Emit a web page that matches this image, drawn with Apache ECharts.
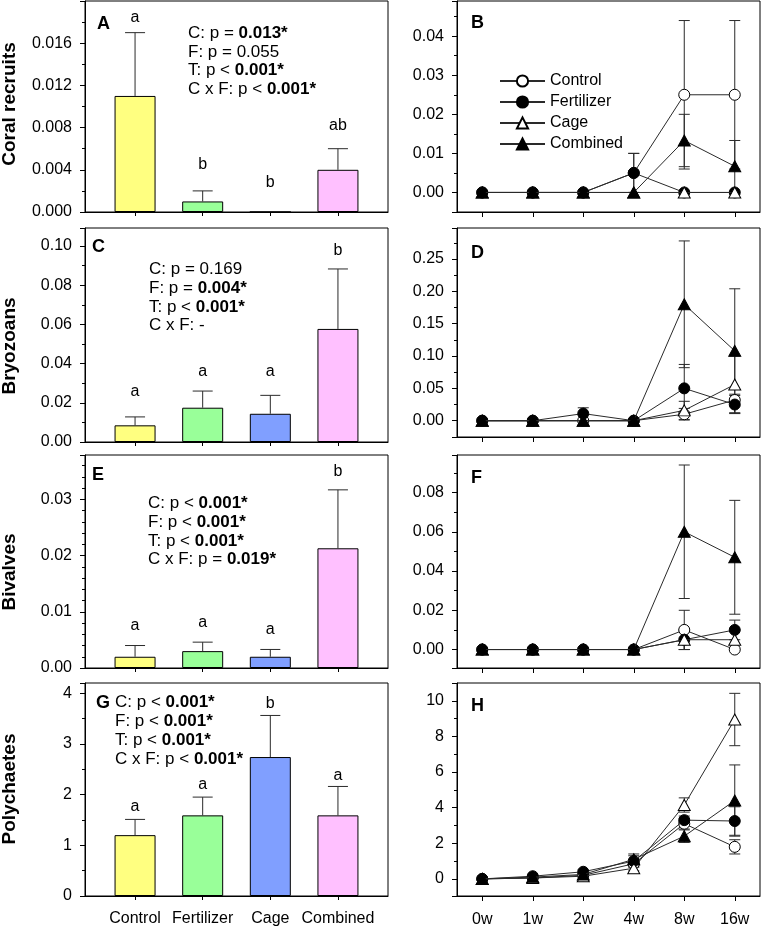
<!DOCTYPE html>
<html><head><meta charset="utf-8">
<script src="https://cdn.jsdelivr.net/npm/echarts@6/dist/echarts.min.js"></script>
<style>html,body{margin:0;padding:0;background:#fff}#c{width:762px;height:927px}</style>
</head><body><div id="c"></div>
<script>
// ---------- DATA ----------
const barCategories = ['Control', 'Fertilizer', 'Cage', 'Combined'];
const weeks = ['0w', '1w', '2w', '4w', '8w', '16w'];
const treatments = ['Control', 'Fertilizer', 'Cage', 'Combined'];

// A: Coral recruits (overall means)
const coralMean = [0.011, 0.001, 0, 0.004];
const coralErr = [0.006, 0.001, 0, 0.002];
const coralLetters = ['a', 'b', 'b', 'ab'];
const coralLetterY = [0.0184, 0.0045, 0.0028, 0.0082];
// C: Bryozoans
const bryoMean = [0.0085, 0.0175, 0.0144, 0.0577];
const bryoErr = [0.0043, 0.0085, 0.0094, 0.0306];
const bryoLetters = ['a', 'a', 'a', 'b'];
const bryoLetterY = [0.0255, 0.036, 0.036, 0.0976];
// E: Bivalves
const bivMean = [0.002, 0.003, 0.002, 0.0213];
const bivErr = [0.002, 0.0016, 0.0013, 0.0104];
const bivLetters = ['a', 'a', 'a', 'b'];
const bivLetterY = [0.0075, 0.008, 0.0069, 0.035];
// G: Polychaetes
const polyMean = [1.20, 1.59, 2.74, 1.59];
const polyErr = [0.31, 0.36, 0.82, 0.57];
const polyLetters = ['a', 'a', 'b', 'a'];
const polyLetterY = [1.76, 2.19, 3.80, 2.37];

// B: Coral recruits through time (rows: Control, Fertilizer, Cage, Combined)
const coralTimeMean = [
  [0, 0, 0, 0.005, 0.025, 0.025],
  [0, 0, 0, 0.005, 0, 0],
  [0, 0, 0, 0, 0, 0],
  [0, 0, 0, 0, 0.0133, 0.0067]
];
const coralTimeErr = [
  [0, 0, 0, 0.005, 0.019, 0.019],
  [0, 0, 0, 0.005, 0, 0],
  [0, 0, 0, 0, 0, 0],
  [0, 0, 0, 0, 0.0067, 0.0066]
];
// D: Bryozoans through time
const bryoTimeMean = [
  [0, 0, 0, 0, 0.010, 0.032],
  [0, 0, 0.011, 0, 0.050, 0.025],
  [0, 0, 0, 0, 0.016, 0.056],
  [0, 0, 0, 0, 0.180, 0.108]
];
const bryoTimeErr = [
  [0, 0, 0, 0, 0.009, 0.009],
  [0, 0, 0.009, 0, 0.037, 0.014],
  [0, 0, 0, 0, 0.014, 0.044],
  [0, 0, 0, 0, 0.098, 0.096]
];
// F: Bivalves through time
const bivTimeMean = [
  [0, 0, 0, 0, 0.010, 0],
  [0, 0, 0, 0, 0.005, 0.010],
  [0, 0, 0, 0, 0.005, 0.005],
  [0, 0, 0, 0, 0.060, 0.047]
];
const bivTimeErr = [
  [0, 0, 0, 0, 0.010, 0],
  [0, 0, 0, 0, 0.005, 0.005],
  [0, 0, 0, 0, 0.005, 0.005],
  [0, 0, 0, 0, 0.034, 0.029]
];
// H: Polychaetes through time
const polyTimeMean = [
  [0, 0.05, 0.20, 0.85, 3.10, 1.80],
  [0, 0.15, 0.40, 1.00, 3.30, 3.25],
  [0, 0.05, 0.15, 0.60, 4.15, 8.95],
  [0, 0.10, 0.25, 1.10, 2.40, 4.40]
];
const polyTimeErr = [
  [0, 0.02, 0.05, 0.20, 0.30, 0.40],
  [0, 0.05, 0.10, 0.30, 0.23, 0.80],
  [0, 0.02, 0.05, 0.15, 0.40, 1.47],
  [0, 0.03, 0.05, 0.30, 0.35, 2.00]
];

const yTitles = ['Coral recruits', 'Bryozoans', 'Bivalves', 'Polychaetes'];
const panelLetters = ['A', 'B', 'C', 'D', 'E', 'F', 'G', 'H'];
// stats text: [normal part, bold part]
const statsA = [['C: p = ', '0.013*'], ['F: p = 0.055', ''], ['T: p < ', '0.001*'], ['C x F: p < ', '0.001*']];
const statsC = [['C: p = 0.169', ''], ['F: p = ', '0.004*'], ['T: p < ', '0.001*'], ['C x F: -', '']];
const statsE = [['C: p < ', '0.001*'], ['F: p < ', '0.001*'], ['T: p < ', '0.001*'], ['C x F: p = ', '0.019*']];
const statsG = [['C: p < ', '0.001*'], ['F: p < ', '0.001*'], ['T: p < ', '0.001*'], ['C x F: p < ', '0.001*']];

// ---------- STYLE / LAYOUT ----------
const FONT = '"Liberation Sans", Arial, Helvetica, sans-serif';
const barColors = ['#FFFF80', '#99FF99', '#809FFF', '#FFC0FF'];
const symbols = ['circle', 'circle', 'triangle', 'triangle'];
const symbolSizes = [11, 11, [12, 11], [12, 11]];
const fills = ['#ffffff', '#000000', '#ffffff', '#000000'];
const LINE = '#2a2a2a';

const grids = [], xAxes = [], yAxes = [], series = [], graphics = [];

function makeY(idx, c) {
  const ax = {
    gridIndex: idx, type: 'value', min: c.min, max: c.max,
    axisLine: { show: true, onZero: false, lineStyle: { color: '#000', width: 1 } },
    axisTick: { show: true, length: 5, lineStyle: { color: '#000' } },
    minorTick: { show: true, splitNumber: c.minor, length: 3, lineStyle: { color: '#000' } },
    axisLabel: {
      margin: 13, fontSize: 16, fontFamily: FONT, color: '#000',
      showMinLabel: true, showMaxLabel: true,
      formatter: v => {
        const r = v / c.step;
        if (v < -1e-12 || v > c.max - 1e-9 || Math.abs(r - Math.round(r)) > 1e-6) return '';
        return v.toFixed(c.dec);
      }
    },
    splitLine: { show: false }, minorSplitLine: { show: false }
  };
  if (c.interval) ax.interval = c.interval; else ax.splitNumber = c.split;
  return ax;
}

function errRenderer(capHalf, both) {
  return function (params, api) {
    const x = api.value(0), m = api.value(1), e = api.value(2);
    if (!e) return null;
    const top = api.coord([x, m + e]);
    const bot = api.coord([x, both ? m - e : m]);
    const st = { stroke: LINE, lineWidth: 1 };
    const ch = [
      { type: 'line', shape: { x1: top[0], y1: top[1], x2: bot[0], y2: bot[1] }, style: st },
      { type: 'line', shape: { x1: top[0] - capHalf, y1: top[1], x2: top[0] + capHalf, y2: top[1] }, style: st }
    ];
    if (both) ch.push({ type: 'line', shape: { x1: bot[0] - capHalf, y1: bot[1], x2: bot[0] + capHalf, y2: bot[1] }, style: st });
    return { type: 'group', children: ch };
  };
}

function gridBox(b) {
  return { left: b[0], top: b[1], width: b[2], height: b[3], show: true, borderColor: '#000', borderWidth: 1,
    backgroundColor: 'rgba(0,0,0,0)', containLabel: false, outerBoundsMode: 'none' };
}

function addBarPanel(idx, box, yc, mean, err, letters, letterY, showLabels) {
  grids.push(gridBox(box));
  xAxes.push({
    gridIndex: idx, type: 'value', min: -0.74, max: 3.74,
    axisLine: { show: true, onZero: false, lineStyle: { color: '#000', width: 1 } },
    axisTick: { show: true, customValues: [0, 1, 2, 3], length: 4, lineStyle: { color: '#000' } },
    axisLabel: { show: showLabels, customValues: [0, 1, 2, 3], formatter: v => barCategories[Math.round(v)] || '',
      margin: 15, fontSize: 16, fontFamily: FONT, color: '#000' },
    splitLine: { show: false }
  });
  yAxes.push(makeY(idx, yc));
  series.push({
    type: 'bar', xAxisIndex: idx, yAxisIndex: idx, barWidth: 41, silent: true, z: 2,
    data: mean.map((m, i) => ({ value: [i, m], itemStyle: { color: barColors[i] } })),
    itemStyle: { borderColor: '#000', borderWidth: 1 }
  });
  series.push({
    type: 'custom', xAxisIndex: idx, yAxisIndex: idx, silent: true, z: 3, clip: false,
    data: mean.map((m, i) => [i, m, err[i]]), renderItem: errRenderer(10, false)
  });
  series.push({
    type: 'custom', xAxisIndex: idx, yAxisIndex: idx, silent: true, z: 4, clip: false,
    data: letterY.map((y, i) => [i, y]),
    renderItem: (params, api) => {
      const p = api.coord([api.value(0), api.value(1)]);
      return { type: 'text', x: p[0], y: p[1],
        style: { text: letters[params.dataIndex], align: 'center', verticalAlign: 'middle', font: '16px ' + FONT, fill: '#000' } };
    }
  });
}

function addLinePanel(idx, box, yc, means, errs, showLabels) {
  grids.push(gridBox(box));
  xAxes.push({
    gridIndex: idx, type: 'category', data: weeks, boundaryGap: true,
    axisLine: { show: true, onZero: false, lineStyle: { color: '#000', width: 1 } },
    axisTick: { show: true, alignWithLabel: true, length: 5, lineStyle: { color: '#000' } },
    axisLabel: { show: showLabels, margin: 16, fontSize: 16, fontFamily: FONT, color: '#000' },
    splitLine: { show: false }
  });
  yAxes.push(makeY(idx, yc));
  treatments.forEach((t, k) => {
    series.push({
      type: 'custom', xAxisIndex: idx, yAxisIndex: idx, silent: true, z: 2, clip: false,
      data: means[k].map((m, i) => [i, m, errs[k][i]]), renderItem: errRenderer(5.5, true)
    });
  });
  treatments.forEach((t, k) => {
    series.push({
      type: 'line', name: t, xAxisIndex: idx, yAxisIndex: idx, data: means[k],
      symbol: symbols[k], symbolSize: symbolSizes[k], showAllSymbol: true, silent: true, z: 3 + k * 0.01,
      lineStyle: { color: LINE, width: 1 },
      itemStyle: { color: fills[k], borderColor: '#000', borderWidth: 1 },
      emphasis: { disabled: true }
    });
  });
}

// Panels
addBarPanel(0, [85, 1, 303, 211], { min: 0, max: 0.02, interval: 0.004, step: 0.004, minor: 2, dec: 3 },
  coralMean, coralErr, coralLetters, coralLetterY, false);
addLinePanel(1, [457, 1, 303, 211], { min: -0.005, max: 0.049, split: 5, step: 0.01, minor: 2, dec: 2 },
  coralTimeMean, coralTimeErr, false);
addBarPanel(2, [85, 228, 303, 214], { min: 0, max: 0.1092, interval: 0.02, step: 0.02, minor: 2, dec: 2 },
  bryoMean, bryoErr, bryoLetters, bryoLetterY, false);
addLinePanel(3, [457, 228, 303, 209], { min: -0.0252, max: 0.298, split: 6, step: 0.05, minor: 2, dec: 2 },
  bryoTimeMean, bryoTimeErr, false);
addBarPanel(4, [85, 455, 303, 213], { min: 0, max: 0.0379, interval: 0.01, step: 0.01, minor: 5, dec: 2 },
  bivMean, bivErr, bivLetters, bivLetterY, false);
addLinePanel(5, [457, 455, 303, 213], { min: -0.0094, max: 0.0991, split: 5, step: 0.02, minor: 2, dec: 2 },
  bivTimeMean, bivTimeErr, false);
addBarPanel(6, [85, 683, 303, 213], { min: 0, max: 4.2, interval: 1, step: 1, minor: 2, dec: 0 },
  polyMean, polyErr, polyLetters, polyLetterY, true);
addLinePanel(7, [457, 683, 303, 213], { min: -0.96, max: 11, split: 6, step: 2, minor: 2, dec: 0 },
  polyTimeMean, polyTimeErr, true);

// Panel letters
const letterPos = [[97, 24], [471, 23], [92, 247], [471, 253], [92, 475], [471, 478], [96, 703], [471, 706]];
panelLetters.forEach((L, i) => graphics.push({
  type: 'text', x: letterPos[i][0], y: letterPos[i][1], silent: true,
  style: { text: L, font: 'bold 18px ' + FONT, fill: '#000', align: 'left', verticalAlign: 'middle' }
}));

// Y titles
const yTitlePos = [[10, 104], [10, 346], [10, 572], [10, 789]];
yTitles.forEach((t, i) => graphics.push({
  type: 'text', x: yTitlePos[i][0], y: yTitlePos[i][1], rotation: Math.PI / 2, silent: true,
  style: { text: t, font: 'bold 19px ' + FONT, fill: '#000', align: 'center', verticalAlign: 'middle' }
}));

// Stats text
function addStats(lines, x, ys) {
  lines.forEach((ln, i) => {
    const txt = '{n|' + ln[0] + '}' + (ln[1] ? '{b|' + ln[1] + '}' : '');
    graphics.push({
      type: 'text', x: x, y: ys[i], silent: true,
      style: {
        text: txt, align: 'left', verticalAlign: 'middle',
        rich: {
          n: { fontSize: 17, fontFamily: FONT, fill: '#000' },
          b: { fontSize: 17, fontFamily: FONT, fontWeight: 'bold', fill: '#000' }
        }
      }
    });
  });
}
addStats(statsA, 188, [33, 52, 70, 89]);
addStats(statsC, 149, [269, 288, 307, 325]);
addStats(statsE, 148, [503, 522, 541, 559]);
addStats(statsG, 115, [702, 721, 740, 759]);

const chart = echarts.init(document.getElementById('c'), null, { renderer: 'canvas' });
chart.setOption({
  animation: false,
  backgroundColor: '#fff',
  textStyle: { fontFamily: FONT },
  grid: grids, xAxis: xAxes, yAxis: yAxes, series: series,
  legend: {
    data: treatments, orient: 'vertical', left: 499, top: 73, padding: 0,
    itemWidth: 45, itemHeight: 14, itemGap: 5, selectedMode: false,
    textStyle: { fontSize: 16, fontFamily: FONT, color: '#000' }
  },
  graphic: graphics
});
</script></body></html>
